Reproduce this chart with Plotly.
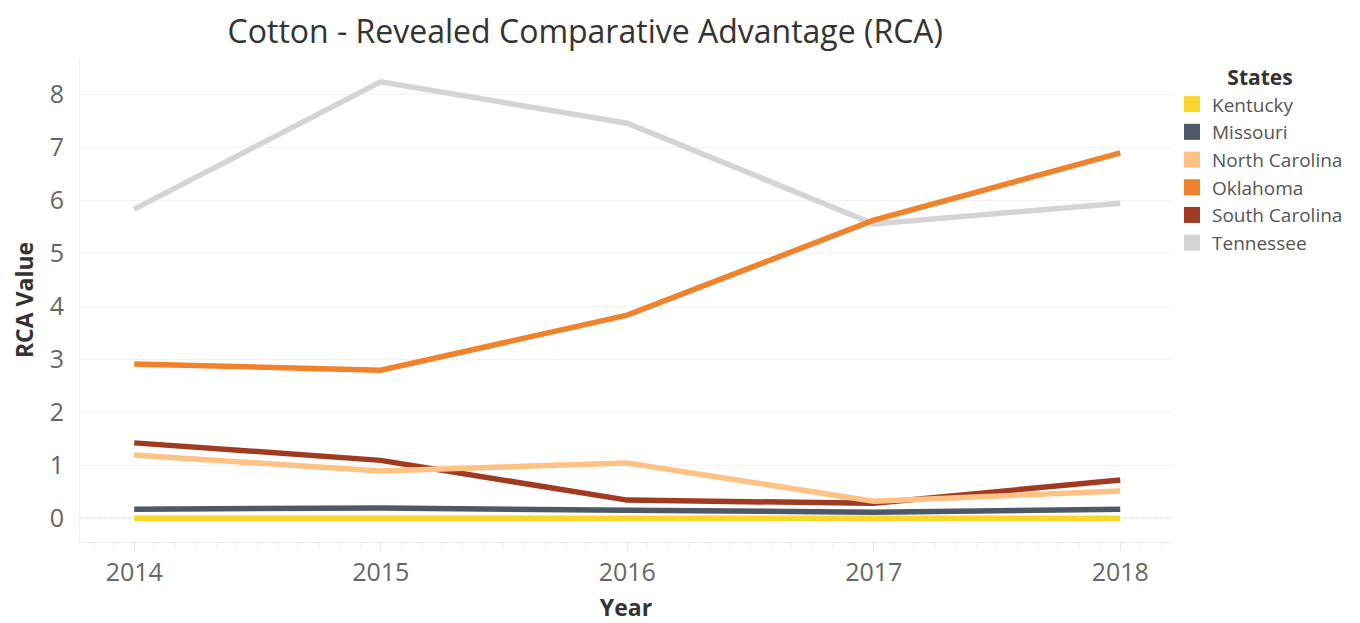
"""
Cotton RCA line chart.
"""
import plotly.graph_objects as go

years = [2014, 2015, 2016, 2017, 2018]

kentucky = [0.0, 0.0, 0.0, 0.0, 0.0]
missouri = [0.17, 0.19, 0.15, 0.11, 0.17]
north_carolina = [1.19, 0.89, 1.04, 0.32, 0.51]
oklahoma = [2.91, 2.79, 3.83, 5.62, 6.89]
south_carolina = [1.42, 1.09, 0.34, 0.28, 0.72]
tennessee = [5.83, 8.23, 7.45, 5.55, 5.94]

states = ["Kentucky", "Missouri", "North Carolina", "Oklahoma", "South Carolina", "Tennessee"]
values = [kentucky, missouri, north_carolina, oklahoma, south_carolina, tennessee]
colors = ["#f8d72b", "#4f5866", "#ffc285", "#f1822b", "#a03b22", "#d4d4d4"]

# drawing order: later ones sit on top
draw_order = ["Tennessee", "South Carolina", "Oklahoma", "North Carolina", "Missouri", "Kentucky"]

FONT = "Open Sans"
TEXT = "#333333"
TICK = "#666666"

fig = go.Figure()

for name in draw_order:
    i = states.index(name)
    fig.add_trace(go.Scatter(
        x=years,
        y=values[i],
        name=name,
        mode="lines",
        line=dict(color=colors[i], width=5.5),
        showlegend=False,
    ))

# square swatches for the legend
for i, name in enumerate(states):
    fig.add_trace(go.Scatter(
        x=[None],
        y=[None],
        name=name,
        mode="markers",
        marker=dict(symbol="square", size=17, color=colors[i]),
        legendrank=i + 1,
    ))

# page body adds an 8px offset, so the figure is a bit smaller than the window
fig.update_layout(
    width=1352,
    height=615,
    margin=dict(l=72, r=181, t=50, b=81),
    paper_bgcolor="white",
    plot_bgcolor="white",
    font=dict(family=FONT, color=TEXT),
    title=dict(
        text="Cotton - Revealed Comparative Advantage (RCA)",
        x=0.427, xanchor="center", y=0.962, yanchor="middle",
        font=dict(size=32, color=TEXT, family=FONT),
    ),
    xaxis=dict(
        range=[2013.78, 2018.21],
        tickvals=years,
        ticktext=[str(y) for y in years],
        tickfont=dict(size=25, color=TICK),
        showgrid=False,
        zeroline=False,
        showline=True,
        linecolor="#ebebeb",
        linewidth=1,
        ticks="outside",
        ticklen=8,
        tickcolor="#e6e6e6",
        minor=dict(dtick=1 / 12, ticks="outside", ticklen=4, tickcolor="#eeeeee"),
        automargin=False,
        title=dict(text="<b>Year</b>", font=dict(size=23, color=TEXT), standoff=24),
    ),
    yaxis=dict(
        range=[-0.45, 8.68],
        tickvals=list(range(0, 9)),
        tickfont=dict(size=25, color=TICK),
        showgrid=True,
        gridcolor="#f2f2f2",
        gridwidth=1,
        zeroline=False,
        showline=True,
        linecolor="#f0f0f0",
        ticks="",
        ticklabelstandoff=10,
        automargin=False,
        title=dict(text="<b>RCA Value</b>", font=dict(size=23, color=TEXT), standoff=12),
    ),
    legend=dict(
        title=dict(text="<b>States</b>", font=dict(size=21, color=TEXT), side="top center"),
        x=1.0, xanchor="left",
        y=1.0, yanchor="top",
        font=dict(size=19, color="#555555"),
        itemwidth=30,
        tracegroupgap=0,
        bgcolor="rgba(0,0,0,0)",
    ),
)

fig.add_shape(
    type="line", xref="paper", yref="y",
    x0=0, x1=1, y0=0, y1=0,
    line=dict(color="#bbbbbb", width=1, dash="dot"),
    layer="below",
)

fig.write_html("out.html")
